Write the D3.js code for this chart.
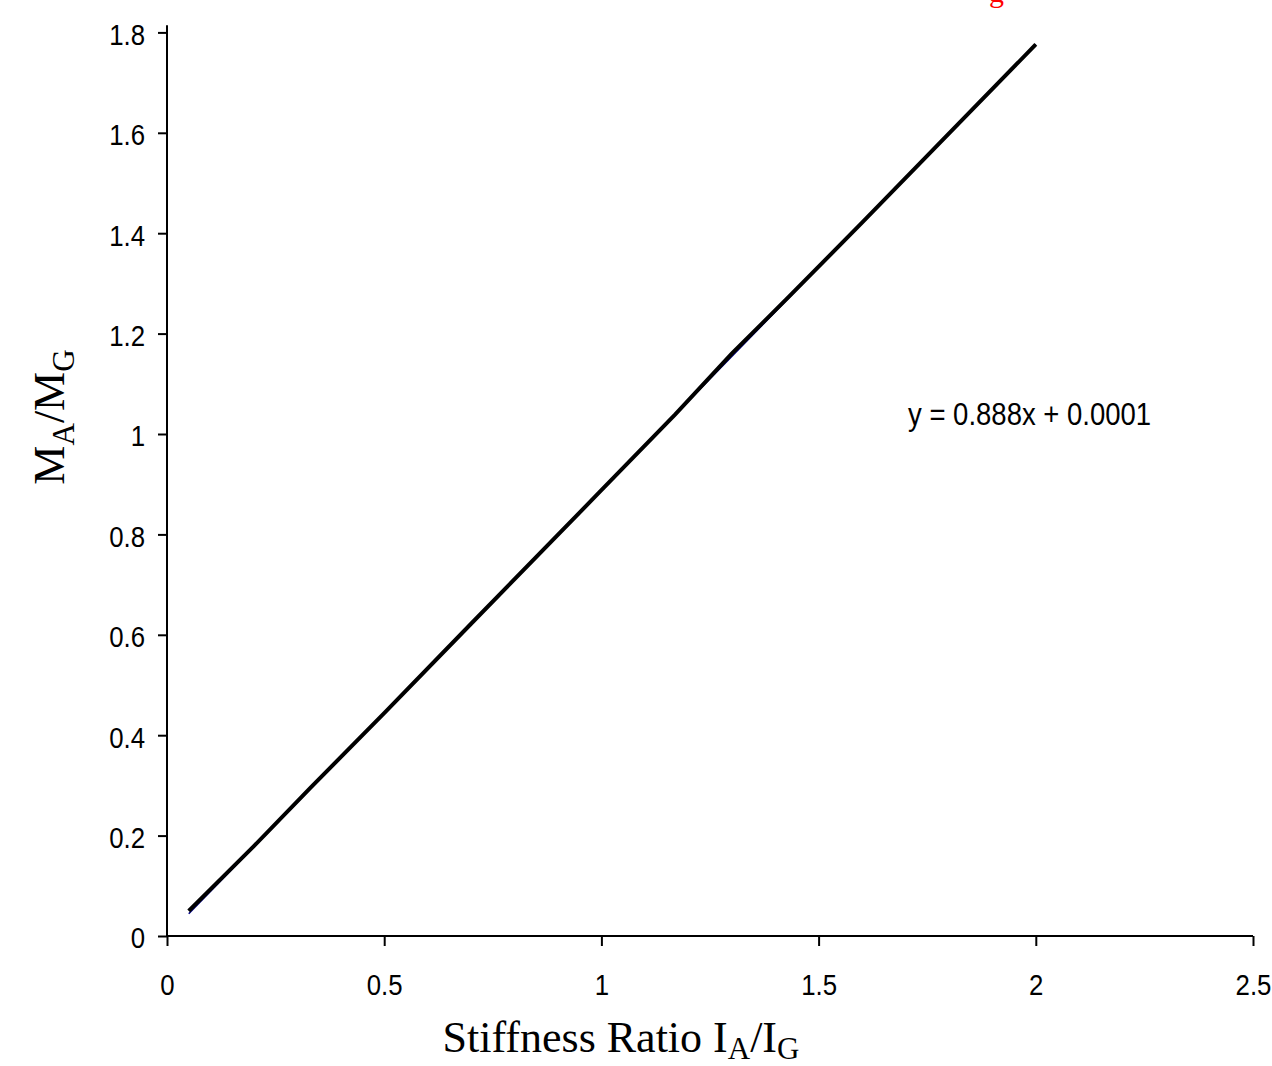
<!DOCTYPE html>
<html>
<head>
<meta charset="utf-8">
<script src="https://cdn.jsdelivr.net/npm/d3@7"></script>
<style>
  body { margin: 0; background: #fff; }
  svg { display: block; }
</style>
</head>
<body>
<svg id="chart" width="1272" height="1066"></svg>
<script>
// data
var stiffness = [0.05, 0.2, 0.33, 0.5, 0.7, 1.0, 1.17, 1.3, 1.43, 1.6, 2.0];
var momentRatio = [0.05, 0.179, 0.295, 0.444, 0.622, 0.888, 1.039, 1.160, 1.272, 1.421, 1.776];
var trendX = [0.05, 2.0];
var trendY = [0.0445, 1.7761];
var xTicks = [0, 0.5, 1, 1.5, 2, 2.5];
var yTicks = [0, 0.2, 0.4, 0.6, 0.8, 1, 1.2, 1.4, 1.6, 1.8];
var yAxisTop = 1.814;
var equation = "y = 0.888x + 0.0001";

var svg = d3.select("#chart");

var x = d3.scaleLinear().domain([0, 2.5]).range([167, 1253]);
var y = d3.scaleLinear().domain([0, 1.8]).range([936, 32.4]);

///////////////////////////////////////////////////////////////////////////////
// Axes
///////////////////////////////////////////////////////////////////////////////

var xAxis = svg.append("g")
  .attr("transform", "translate(0," + y(0) + ")")
  .call(d3.axisBottom(x).tickValues(xTicks).tickSize(10).tickSizeOuter(0)
        .tickFormat(function (d) { return String(d); }));

var yAxis = svg.append("g")
  .attr("transform", "translate(" + x(0) + ",0)")
  .call(d3.axisLeft(y).tickValues(yTicks).tickSize(9).tickSizeOuter(0)
        .tickFormat(function (d) { return String(d); }));

[xAxis, yAxis].forEach(function (ax) {
  ax.select(".domain").remove();
  ax.selectAll(".tick line").attr("stroke", "#000").attr("stroke-width", 2);
  ax.selectAll(".tick text")
    .attr("fill", "#000")
    .style("font-family", "'Liberation Sans', Arial, sans-serif")
    .style("font-size", "30px");
});

// horizontally squeezed labels, like the original
xAxis.selectAll(".tick text")
  .attr("y", 0).attr("dy", 0)
  .attr("transform", "translate(0,59) scale(0.86,1)");
yAxis.selectAll(".tick text")
  .attr("x", 0).attr("dy", "0.36em")
  .attr("transform", "translate(-22,1) scale(0.86,1)");

// axis lines
svg.append("line")
  .attr("x1", x(0)).attr("x2", x(2.5))
  .attr("y1", y(0)).attr("y2", y(0))
  .attr("stroke", "#000").attr("stroke-width", 2);
svg.append("line")
  .attr("x1", x(0)).attr("x2", x(0))
  .attr("y1", y(0) + 1).attr("y2", y(yAxisTop))
  .attr("stroke", "#000").attr("stroke-width", 2);

///////////////////////////////////////////////////////////////////////////////
// Series
///////////////////////////////////////////////////////////////////////////////

var trend = d3.zip(trendX, trendY);
var pts = d3.zip(stiffness, momentRatio);
var line = d3.line()
  .x(function (d) { return x(d[0]); })
  .y(function (d) { return y(d[1]); });

svg.append("path")
  .datum(trend)
  .attr("d", line)
  .attr("fill", "none")
  .attr("stroke", "#000080")
  .attr("stroke-width", 1.5);

svg.append("path")
  .datum(pts)
  .attr("d", line)
  .attr("fill", "none")
  .attr("stroke", "#000")
  .attr("stroke-width", 4);

///////////////////////////////////////////////////////////////////////////////
// Text
///////////////////////////////////////////////////////////////////////////////

svg.append("text")
  .attr("transform", "translate(908,425) scale(0.86,1)")
  .style("font-family", "'Liberation Sans', Arial, sans-serif")
  .style("font-size", "32px")
  .text(equation);

var serif = "'Liberation Serif', 'Times New Roman', serif";

var xt = svg.append("text")
  .attr("x", 621).attr("y", 1052)
  .attr("text-anchor", "middle")
  .style("font-family", serif)
  .style("font-size", "44px");
xt.append("tspan").text("Stiffness Ratio I");
xt.append("tspan").attr("dy", 7).style("font-size", "31px").text("A");
xt.append("tspan").attr("dy", -7).text("/I");
xt.append("tspan").attr("dy", 7).style("font-size", "31px").text("G");

var yt = svg.append("text")
  .attr("transform", "translate(64,417) rotate(-90)")
  .attr("text-anchor", "middle")
  .style("font-family", serif)
  .style("font-size", "44px");
yt.append("tspan").text("M");
yt.append("tspan").attr("dy", 10).style("font-size", "31px").text("A");
yt.append("tspan").attr("dy", -10).text("/M");
yt.append("tspan").attr("dy", 10).style("font-size", "31px").text("G");

// red title above the chart, cut off by the top edge in the original
svg.append("text")
  .attr("x", 989).attr("y", 2)
  .attr("fill", "#ff0000")
  .style("font-family", serif)
  .style("font-size", "30px")
  .text("g");
</script>
</body>
</html>
